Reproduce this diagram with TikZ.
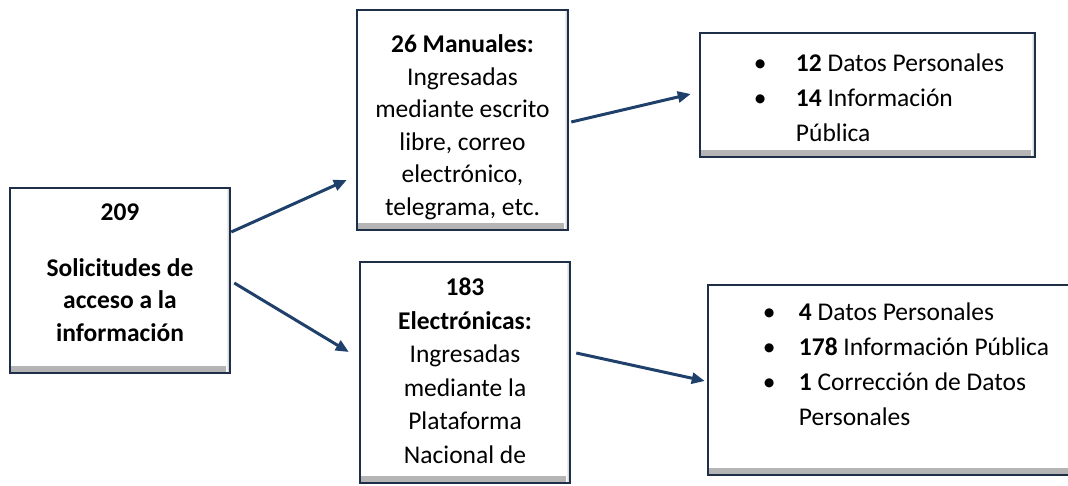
\documentclass[tikz,border=0pt]{standalone}
\usepackage{fontspec}
\setmainfont{Carlito}
\usetikzlibrary{positioning,arrows.meta}
\definecolor{borde}{RGB}{31,47,74}
\definecolor{flecha}{RGB}{31,64,106}
\newcommand{\vineta}[1]{\makebox[#1][l]{\textbullet}}

\begin{document}
\begin{tikzpicture}[x=1pt,y=1pt]
  % 样式
  \tikzset{caja/.style = {rectangle, draw=borde, line width=2.5pt, fill=white, inner sep=0pt,
    path picture={
      \shade[top color=white, bottom color=black!30] ([yshift=6pt]path picture bounding box.south west) rectangle (path picture bounding box.south east);
      \shade[left color=white, right color=black!30] ([xshift=-4pt]path picture bounding box.north east) rectangle (path picture bounding box.south east);
    }}}
  \tikzset{texto/.style = {align=center, inner sep=0pt, font=\fontsize{25.5}{32.5}\selectfont}}
  \tikzset{lista/.style = {align=left, inner sep=0pt, font=\fontsize{25.5}{35}\selectfont}}
  \tikzset{enlace/.style = {draw=flecha, line width=3pt, -{Triangle[length=13pt,width=11pt]}}}

  \useasboundingbox (0,0) rectangle (1068,486);
  \clip (0,0) rectangle (1068,486);

  % 方框
  \node[caja, minimum width=220pt, minimum height=185pt] (A) at (120,205.5) {};
  \node[caja, minimum width=211pt, minimum height=220pt] (B) at (462.5,366) {};
  \node[caja, minimum width=210pt, minimum height=221pt] (C) at (465,113.5) {};
  \node[caja, minimum width=335pt, minimum height=124pt] (D) at (867.5,391) {};
  \node[caja, minimum width=367pt, minimum height=190pt] (E) at (891.5,106) {};

  % 文字
  \node[texto, font=\fontsize{25.5}{32.5}\selectfont\bfseries, below=17pt of A.north] (tA)
    {209\\[23pt]Solicitudes de\\acceso a la\\información};
  \node[texto, below=26pt of B.north] (tB)
    {\textbf{26 Manuales:}\\Ingresadas\\mediante escrito\\libre, correo\\electrónico,\\telegrama, etc.};
  \node[texto, font=\fontsize{25.5}{33.5}\selectfont, below=17pt of C.north] (tC)
    {\textbf{183}\\\textbf{Electrónicas:}\\Ingresadas\\mediante la\\Plataforma\\Nacional de};
  \node[lista, below right=22pt and 55pt of D.north west] (tD)
    {\vineta{42pt}\textbf{12} Datos Personales\\\vineta{42pt}\textbf{14} Información\\\hspace*{42pt}Pública};
  \node[lista, below right=19pt and 56pt of E.north west] (tE)
    {\vineta{36pt}\textbf{4} Datos Personales\\\vineta{36pt}\textbf{178} Información Pública\\\vineta{36pt}\textbf{1} Corrección de Datos\\\hspace*{36pt}Personales};

  % 箭头
  \draw[enlace] ([yshift=48.5pt]A.east) -- ([xshift=-9pt, yshift=-60pt]B.west);
  \draw[enlace] ([xshift=3pt, yshift=-2.5pt]A.east) -- ([xshift=-10pt, yshift=20.5pt]C.west);
  \draw[enlace] ([xshift=2pt, yshift=-2pt]B.east) -- ([xshift=-8pt, yshift=1pt]D.west);
  \draw[enlace] ([xshift=5pt, yshift=19.5pt]C.east) -- ([xshift=-2pt, yshift=-1pt]E.west);
\end{tikzpicture}
\end{document}
